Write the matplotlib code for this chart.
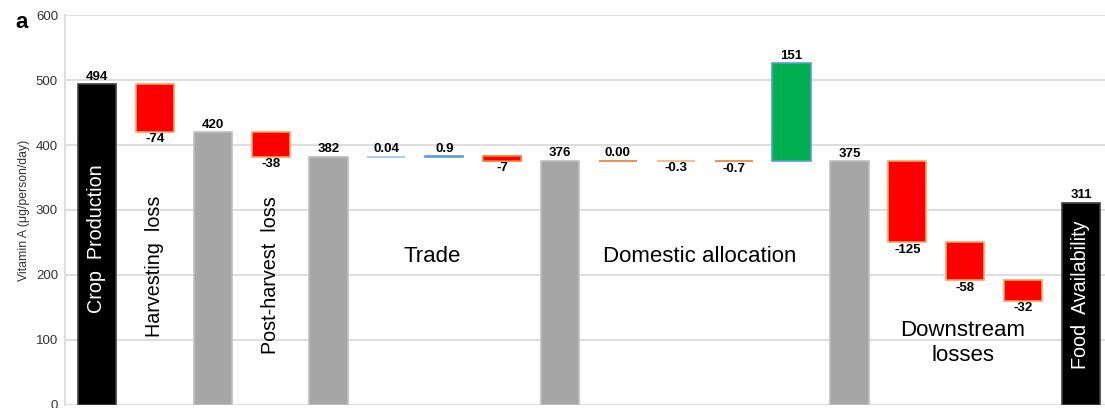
import matplotlib.pyplot as plt

# waterfall of vitamin A through the food system
values = [494, -74, 420, -38, 382, 0.04, 0.9, -7, 376, 0.00, -0.3, -0.7,
          151, 375, -125, -58, -32, 311]
labels = ["494", "-74", "420", "-38", "382", "0.04", "0.9", "-7", "376",
          "0.00", "-0.3", "-0.7", "151", "375", "-125", "-58", "-32", "311"]
is_total = [1, 0, 1, 0, 1, 0, 0, 0, 1, 0, 0, 0, 0, 1, 0, 0, 0, 1]
y_ticks = [0, 100, 200, 300, 400, 500, 600]

face = ["black", "red", "#a6a6a6", "red", "#a6a6a6", "#9dc3e6", "#5b9bd5",
        "red", "#a6a6a6", "#ed7d31", "#f4b183", "#ed7d31", "#00b050",
        "#a6a6a6", "red", "red", "red", "black"]
edge = ["#404040", "#f4a460", "#bfbfbf", "#f4a460", "#bfbfbf", "#9dc3e6",
        "#5b9bd5", "#ed7d31", "#bfbfbf", "#ed7d31", "#f4b183", "#ed7d31",
        "#5b9bd5", "#bfbfbf", "#f4a460", "#f4a460", "#f4a460", "#404040"]

plt.rcParams['font.family'] = ['Liberation Sans', 'DejaVu Sans']

fig = plt.figure(figsize=(11.05, 4.08), dpi=100)
ax = fig.add_axes([0.0588, 0.0074, 0.9412, 0.9558])

bottoms = []
heights = []
level = 0
for v, t in zip(values, is_total):
    if t:
        bottoms.append(0)
        heights.append(v)
        level = v
    else:
        bottoms.append(level)
        heights.append(v)
        level = level + v

x = list(range(len(values)))
ax.bar(x, heights, bottom=bottoms, width=0.66, color=face, edgecolor=edge,
       linewidth=1.2, zorder=3)

for i in x:
    top = bottoms[i] + max(heights[i], 0)
    low = bottoms[i] + min(heights[i], 0)
    if values[i] >= 0:
        ax.annotate(labels[i], (i, top), xytext=(0, 1), textcoords='offset points',
                    ha='center', va='bottom', fontsize=9.5, fontweight='bold', zorder=4)
    else:
        ax.annotate(labels[i], (i, low), xytext=(0, -1), textcoords='offset points',
                    ha='center', va='top', fontsize=9.5, fontweight='bold', zorder=4)

# stage names
ax.text(0, 256, "Crop  Production", rotation=90, color='white', fontsize=14.2,
        ha='center', va='center', zorder=5)
ax.text(1, 213, "Harvesting  loss", rotation=90, fontsize=14.2,
        ha='center', va='center', zorder=5)
ax.text(3, 200, "Post-harvest  loss", rotation=90, fontsize=14.2,
        ha='center', va='center', zorder=5)
ax.text(17, 169, "Food  Availability", rotation=90, color='white', fontsize=14.2,
        ha='center', va='center', zorder=5)
ax.text(5.79, 228, "Trade", fontsize=16, ha='center', va='center', zorder=5)
ax.text(10.42, 228, "Domestic allocation", fontsize=16, ha='center', va='center', zorder=5)
ax.text(14.96, 96, "Downstream\nlosses", fontsize=16, ha='center', va='center',
        linespacing=1.25, zorder=5)

ax.set_xlim(-0.553, 17.415)
ax.set_ylim(0, 600)
ax.set_yticks(y_ticks)
ax.set_xticks([])
ax.tick_params(axis='y', length=0, labelsize=9.5, pad=5, colors='#333333')
ax.grid(axis='y', color='#dedede', linewidth=1.5, zorder=0)
for s in ['top', 'right', 'bottom']:
    ax.spines[s].set_visible(False)
ax.spines['left'].set_color('#dedede')
ax.spines['left'].set_linewidth(1.5)
ax.set_ylabel("Vitamin A (\u03bcg/person/day)", fontsize=8.8, labelpad=4, color='#333333')

fig.text(0.014, 0.945, "a", fontsize=16, fontweight='bold', va='center')

fig.savefig("out.png", dpi=100)
